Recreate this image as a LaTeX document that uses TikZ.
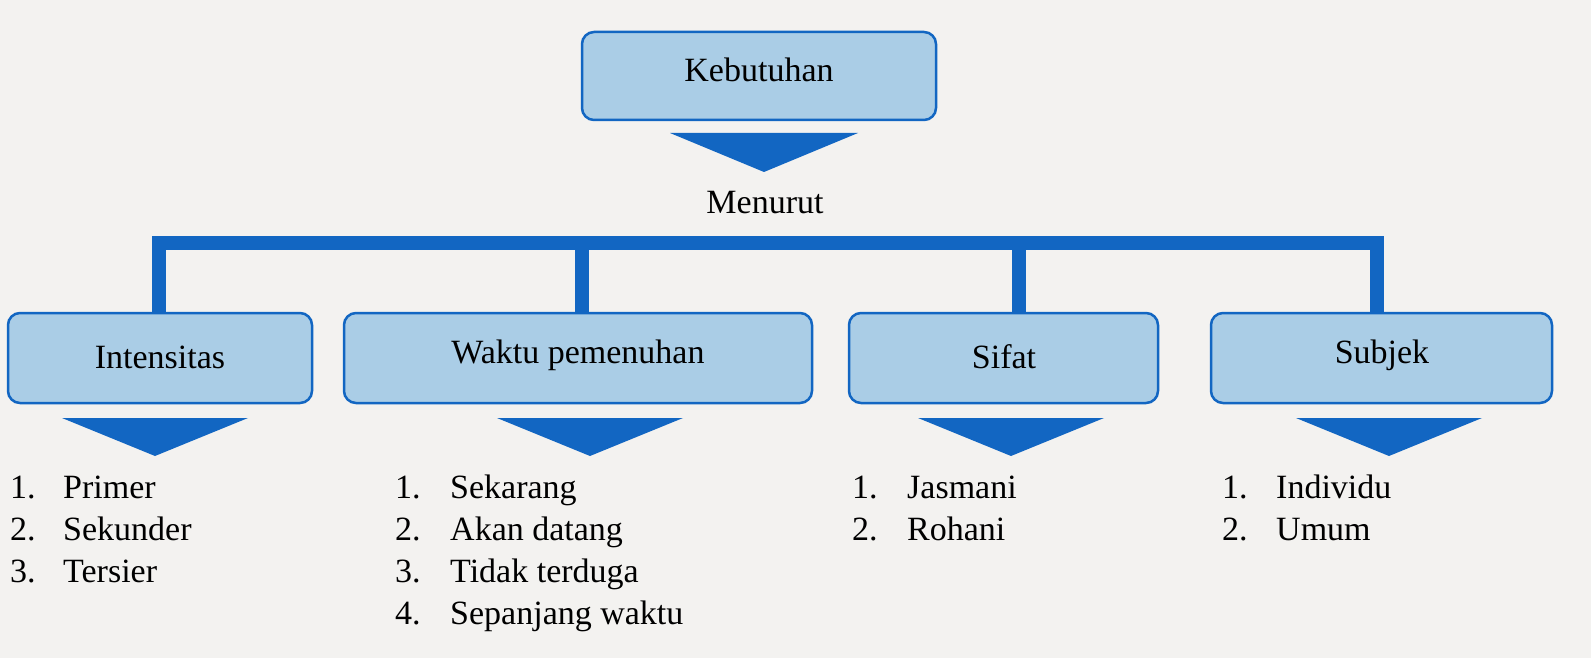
\documentclass[tikz,border=0pt]{standalone}
\usepackage{fontspec}
\setmainfont{Liberation Serif}
\definecolor{bg}{HTML}{F3F2F0}
\definecolor{boxfill}{HTML}{AACDE6}
\definecolor{blu}{HTML}{1266C2}
\begin{document}
\begin{tikzpicture}[x=1pt,y=-1pt,
  bx/.style={draw=blu,line width=2.5pt,fill=boxfill,rounded corners=12pt},
  tri/.style={fill=blu},
  bar/.style={draw=blu,line width=14pt},
  txt/.style={font=\fontsize{34}{40}\selectfont,inner sep=0pt},
  li/.style={font=\fontsize{34}{40}\selectfont,inner sep=0pt,anchor=base west}]
\fill[bg] (0,0) rectangle (1591,658);
\useasboundingbox (0,0) rectangle (1591,658);
% top
\draw[bx] (582,32) rectangle (936,120);
\node[txt] (keb) at (759,70) {Kebutuhan};
\fill[tri] (670,133) -- (858,133) -- (764,172) -- cycle;
\node[txt] (men) at (765,203) {Menurut};
\coordinate (b1) at (159,243); \coordinate (b4) at (1377,243);
\draw[bar] ([xshift=-7pt]b1) -- ([xshift=7pt]b4);
\foreach \x in {159,582,1019,1377} \draw[bar] (\x,243) -- (\x,314);
% boxes
\draw[bx] (8,313) rectangle (312,403);
\node[txt] (int) at (160,357) {Intensitas};
\draw[bx] (344,313) rectangle (812,403);
\node[txt] (wak) at (578,355) {Waktu pemenuhan};
\draw[bx] (849,313) rectangle (1158,403);
\node[txt] (sif) at (1004,357) {Sifat};
\draw[bx] (1211,313) rectangle (1552,403);
\node[txt] (sub) at (1382,355) {Subjek};
% triangles
\foreach \a/\t in {62/155,497/590,918/1011,1296/1389}
  \fill[tri] (\a,418) -- (\a+186,418) -- (\t,456) -- cycle;
% lists
\foreach \nx/\tx/\items in {10/63/{Primer,Sekunder,Tersier},
   395/450/{Sekarang,Akan datang,Tidak terduga,Sepanjang waktu},
   852/907/{Jasmani,Rohani},
   1222/1276/{Individu,Umum}}{
  \foreach \it [count=\i] in \items {
    \node[li] at (\nx,498+42*\i-42) {\i.};
    \node[li] at (\tx,498+42*\i-42) {\it};
  }
}
\end{tikzpicture}
\end{document}
